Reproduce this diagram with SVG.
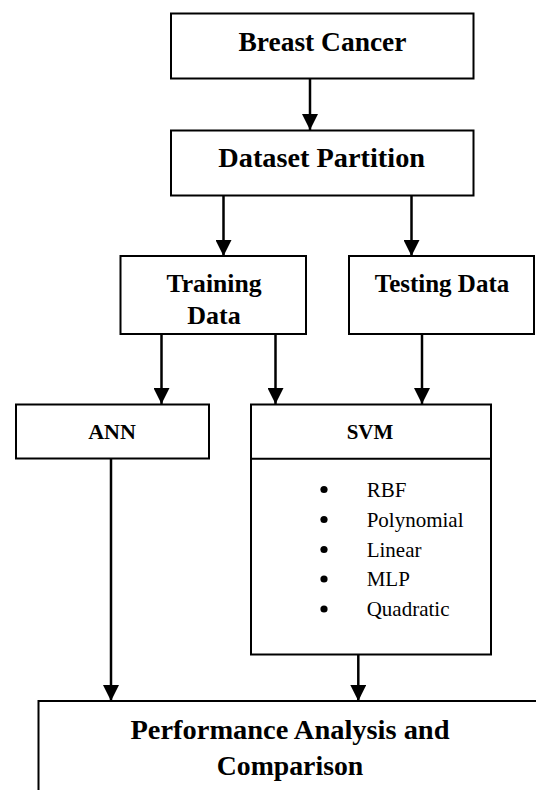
<svg xmlns="http://www.w3.org/2000/svg" width="536" height="790" viewBox="0 0 536 790">
<style>
.box{fill:#fff;stroke:#000;stroke-width:2}
.h{font-weight:bold;fill:#000;text-anchor:middle}
.item{font-size:21px;fill:#000}
.conn line{stroke:#000;stroke-width:2.5}
</style>
<defs>
<marker id="arr" markerUnits="userSpaceOnUse" markerWidth="16" markerHeight="16" viewBox="0 0 16 16" refX="16" refY="8" orient="auto">
<path d="M0,0 L16,8 L0,16 Z" fill="#000"/>
</marker>
</defs>
<rect width="536" height="790" fill="#fff"/>
<g font-family="'Liberation Serif', 'Times New Roman', serif">
<g id="breast-cancer">
<rect class="box" x="171" y="13.5" width="302.5" height="65"/>
<text class="h" x="322.5" y="50.7" font-size="27" textLength="168" lengthAdjust="spacingAndGlyphs">Breast Cancer</text>
</g>
<g id="dataset-partition">
<rect class="box" x="171" y="130.5" width="302.5" height="65"/>
<text class="h" x="321.7" y="166.7" font-size="27" textLength="206.7" lengthAdjust="spacingAndGlyphs">Dataset Partition</text>
</g>
<g id="training-data">
<rect class="box" x="120.5" y="256" width="185.5" height="78"/>
<text class="h" x="214" y="292" font-size="26" textLength="95" lengthAdjust="spacingAndGlyphs">Training</text>
<text class="h" x="214" y="324" font-size="26">Data</text>
</g>
<g id="testing-data">
<rect class="box" x="349" y="256" width="185" height="78"/>
<text class="h" x="442" y="292" font-size="26" textLength="134.4" lengthAdjust="spacingAndGlyphs">Testing Data</text>
</g>
<g id="ann">
<rect class="box" x="16" y="404.5" width="193" height="54"/>
<text class="h" x="112" y="439.3" font-size="22" textLength="47.7" lengthAdjust="spacingAndGlyphs">ANN</text>
</g>
<g id="svm">
<rect class="box" x="251" y="404.5" width="240" height="250"/>
<line x1="251" y1="458.7" x2="491" y2="458.7" stroke="#000" stroke-width="2"/>
<text class="h" x="370" y="439.3" font-size="22" textLength="46.6" lengthAdjust="spacingAndGlyphs">SVM</text>
<g fill="#000">
<circle cx="324" cy="489.5" r="3.6"/>
<circle cx="324" cy="519.5" r="3.6"/>
<circle cx="324" cy="549.5" r="3.6"/>
<circle cx="324" cy="579" r="3.6"/>
<circle cx="324" cy="609" r="3.6"/>
</g>
<text class="item" x="366.7" y="496.7">RBF</text>
<text class="item" x="366.7" y="526.7">Polynomial</text>
<text class="item" x="366.7" y="556.7">Linear</text>
<text class="item" x="366.7" y="586">MLP</text>
<text class="item" x="366.7" y="616">Quadratic</text>
</g>
<g id="performance">
<rect class="box" x="38.5" y="701" width="520" height="120"/>
<text class="h" x="290" y="738.5" font-size="27" textLength="319" lengthAdjust="spacingAndGlyphs">Performance Analysis and</text>
<text class="h" x="290" y="775" font-size="27" textLength="146.6" lengthAdjust="spacingAndGlyphs">Comparison</text>
</g>
</g>
<g id="connectors" class="conn">
<line x1="310" y1="79" x2="310" y2="130" marker-end="url(#arr)"/>
<line x1="223.5" y1="196" x2="223.5" y2="256" marker-end="url(#arr)"/>
<line x1="411.5" y1="196" x2="411.5" y2="256" marker-end="url(#arr)"/>
<line x1="161.5" y1="334" x2="161.5" y2="404" marker-end="url(#arr)"/>
<line x1="275.5" y1="334" x2="275.5" y2="404" marker-end="url(#arr)"/>
<line x1="422" y1="334" x2="422" y2="404" marker-end="url(#arr)"/>
<line x1="111" y1="459" x2="111" y2="701" marker-end="url(#arr)"/>
<line x1="358.3" y1="655" x2="358.3" y2="701" marker-end="url(#arr)"/>
</g>
</svg>
